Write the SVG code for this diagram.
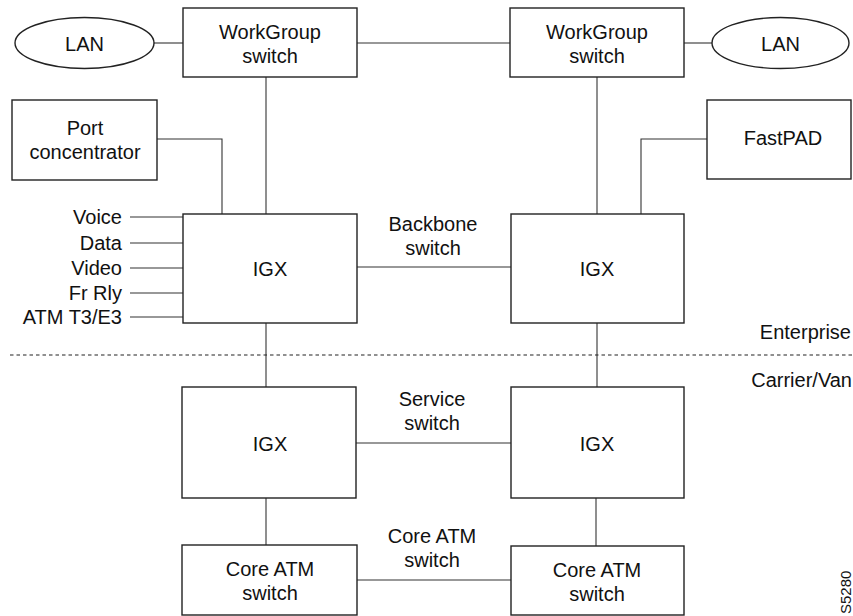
<svg xmlns="http://www.w3.org/2000/svg" width="853" height="616" viewBox="0 0 853 616">
<style>
.box{fill:#fff;stroke:#222;stroke-width:1.4}
.ln{fill:none;stroke:#333;stroke-width:1.1}
.dash{fill:none;stroke:#222;stroke-width:1.2;stroke-dasharray:3.5 3}
text{font-family:"Liberation Sans",Arial,sans-serif;font-size:20px;fill:#111}
.c{text-anchor:middle}
.r{text-anchor:end}
</style>
<rect width="853" height="616" fill="#fff"/>
<g id="connectors">
<line class="ln" x1="154" y1="43" x2="183" y2="43"/>
<line class="ln" x1="357" y1="43" x2="510" y2="43"/>
<line class="ln" x1="684" y1="43" x2="712" y2="43"/>
<line class="ln" x1="266" y1="77" x2="266" y2="214"/>
<line class="ln" x1="597" y1="77" x2="597" y2="214"/>
<polyline class="ln" points="157,139 222,139 222,214"/>
<polyline class="ln" points="707,139 641,139 641,214"/>
<line class="ln" x1="130" y1="217" x2="183" y2="217"/>
<line class="ln" x1="130" y1="243" x2="183" y2="243"/>
<line class="ln" x1="130" y1="268" x2="183" y2="268"/>
<line class="ln" x1="130" y1="293" x2="183" y2="293"/>
<line class="ln" x1="130" y1="317" x2="183" y2="317"/>
<line class="ln" x1="357" y1="267" x2="511" y2="267"/>
<line class="ln" x1="266" y1="323" x2="266" y2="387"/>
<line class="ln" x1="597" y1="323" x2="597" y2="387"/>
<line class="ln" x1="356" y1="443" x2="511" y2="443"/>
<line class="ln" x1="266" y1="498" x2="266" y2="545"/>
<line class="ln" x1="596" y1="498" x2="596" y2="546"/>
<line class="ln" x1="357" y1="580" x2="511" y2="580"/>
</g>
<line id="divider" class="dash" x1="10" y1="355" x2="853" y2="355"/>
<g id="lan-left"><ellipse class="box" cx="84.5" cy="43" rx="69.5" ry="25.5"/><text class="c" x="84.5" y="51">LAN</text></g>
<g id="wg-left"><rect class="box" x="183" y="8" width="174" height="69"/><text class="c" x="270" y="39">WorkGroup</text><text class="c" x="270" y="63">switch</text></g>
<g id="wg-right"><rect class="box" x="510" y="8" width="174" height="69"/><text class="c" x="597" y="39">WorkGroup</text><text class="c" x="597" y="63">switch</text></g>
<g id="lan-right"><ellipse class="box" cx="780.5" cy="43" rx="68.5" ry="25.5"/><text class="c" x="780.5" y="51">LAN</text></g>
<g id="port-concentrator"><rect class="box" x="12" y="100" width="145" height="80"/><text class="c" x="85" y="135">Port</text><text class="c" x="85" y="159">concentrator</text></g>
<g id="fastpad"><rect class="box" x="707" y="100" width="144" height="79"/><text class="c" x="783" y="145">FastPAD</text></g>
<g id="inputs">
<text class="r" x="122" y="224">Voice</text>
<text class="r" x="122" y="250">Data</text>
<text class="r" x="122" y="275">Video</text>
<text class="r" x="122" y="300">Fr Rly</text>
<text class="r" x="122" y="324">ATM T3/E3</text>
</g>
<g id="igx-tl"><rect class="box" x="183" y="214" width="174" height="109"/><text class="c" x="270" y="276">IGX</text></g>
<g id="igx-tr"><rect class="box" x="511" y="214" width="173" height="109"/><text class="c" x="597" y="276">IGX</text></g>
<g id="igx-bl"><rect class="box" x="182" y="387" width="174" height="111"/><text class="c" x="270" y="451">IGX</text></g>
<g id="igx-br"><rect class="box" x="511" y="387" width="173" height="111"/><text class="c" x="597" y="451">IGX</text></g>
<g id="atm-left"><rect class="box" x="182" y="545" width="175" height="70"/><text class="c" x="270" y="576">Core ATM</text><text class="c" x="270" y="600">switch</text></g>
<g id="atm-right"><rect class="box" x="511" y="546" width="173" height="69"/><text class="c" x="597" y="577">Core ATM</text><text class="c" x="597" y="601">switch</text></g>
<g id="labels">
<text class="c" x="433" y="231">Backbone</text>
<text class="c" x="433" y="255">switch</text>
<text class="c" x="432" y="406">Service</text>
<text class="c" x="432" y="430">switch</text>
<text class="c" x="432" y="543">Core ATM</text>
<text class="c" x="432" y="567">switch</text>
<text class="r" x="851" y="339">Enterprise</text>
<text class="r" x="852" y="387">Carrier/Van</text>
<text x="851" y="614" transform="rotate(-90 851 614)" style="font-size:15px">S5280</text>
</g>
</svg>
